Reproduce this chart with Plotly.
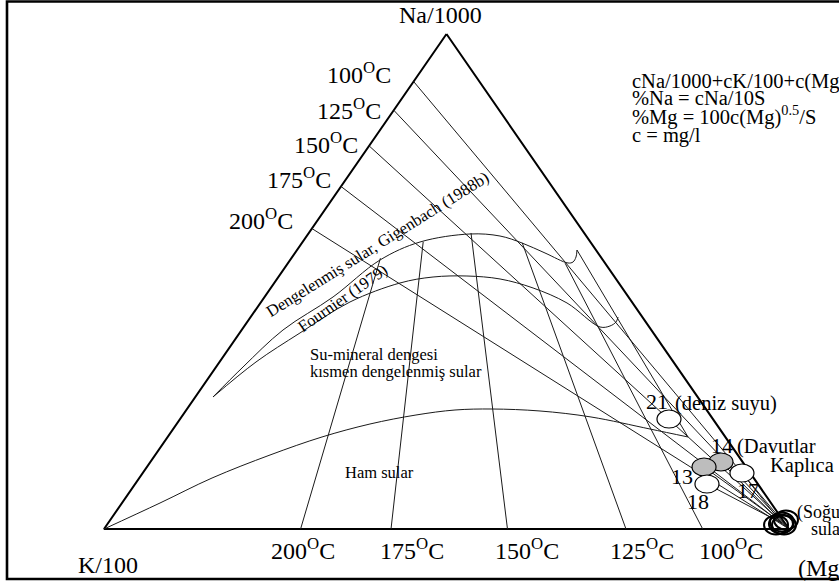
import numpy as np
import plotly.graph_objects as go

# ---------------- data (ternary percentages: %Na, %Mg ; %K = 100 - %Na - %Mg) ----------------
# triangle vertices: Na/1000 (apex), K/100 (left), sqrt(Mg) (right)
tri_na = [100, 0, 0, 100]
tri_mg = [0, 0, 100, 0]

# Na/K isotherms: start on the Na-K side, run to the Mg corner
na_k_temps = [100, 125, 150, 175, 200]
na_k_start_na = [90.4, 84.6, 77.4, 69.2, 60.7]

# K/Mg isotherms: start on the K-Mg side, run toward Na corner up to full-equilibrium curve
k_mg_temps = [200, 175, 150, 125, 100]
k_mg_base_mg = [28.7, 41.9, 58.9, 76.2, 87.4]
k_mg_top_na = [54.7, 58.0, 59.8, 57.8, 53.7]

# full equilibrium curve (Giggenbach 1988b)
gigg_na = [26.67, 32.73, 40.20, 46.87, 54.34, 57.98, 59.60, 59.19, 57.78, 55.76, 53.74, 53.94, 54.95, 56.36]
gigg_mg = [2.58, 3.93, 6.03, 10.00, 13.12, 17.14, 23.63, 28.21, 32.13, 36.50, 40.87, 41.50, 41.43, 40.87]

# Fournier (1979) curve
four_na = [26.67, 33.74, 39.60, 45.86, 49.70, 50.91, 51.11, 50.51, 48.69, 45.66, 40.81, 41.01, 41.82, 42.83]
four_mg = [2.58, 5.32, 8.81, 12.98, 18.36, 22.58, 27.43, 32.56, 38.29, 44.76, 52.01, 53.36, 53.84, 53.63]

# closing line of partial-equilibrium field
close_na = [56.36, 18.59]
close_mg = [40.87, 75.96]

# immature waters boundary (Ham sular)
ham_na = [0, 5.25, 10.30, 14.95, 18.59, 21.21, 23.03, 24.04, 24.24, 23.84, 22.63, 20.20, 18.59]
ham_mg = [0, 5.55, 10.62, 16.76, 22.53, 28.22, 34.03, 39.22, 44.52, 51.73, 59.78, 69.61, 75.96]

# samples
sample_ids = ["14", "13", "17", "18", "21"]
sample_na = [13.54, 12.53, 11.31, 9.09, 22.22]
sample_mg = [83.30, 81.33, 87.48, 83.48, 71.37]
sample_grey = [True, True, False, False, False]
mixing_ids = ["13", "14", "17", "18"]

# cold waters (Soğuk sular) near Mg corner
cold_na = [0.81, 1.41, 1.82, 0.81, 1.01]
cold_mg = [97.70, 98.27, 98.65, 98.87, 98.32]

# ---------------- layout constants ----------------
W, H = 839, 585
BASE_L, BASE_R, BASE_Y, APEX_Y = 104, 789, 529, 34
SX = BASE_R - BASE_L
SY = BASE_Y - APEX_Y
FONT = "Liberation Serif, Times New Roman, serif"
LINE = "#1a1a1a"


def tern(na_pct, mg_pct):
    na = np.asarray(na_pct, float) / 100.0
    mg = np.asarray(mg_pct, float) / 100.0
    return mg + na / 2.0, na


fig = go.Figure()


def add_line(x, y, width=1.0, color=LINE, shape="linear"):
    fig.add_trace(go.Scatter(x=list(x), y=list(y), mode="lines",
                             line=dict(color=color, width=width, shape=shape, smoothing=1.0),
                             hoverinfo="skip", showlegend=False))


# triangle
tx, ty = tern(tri_na, tri_mg)
add_line(tx, ty, width=2.0, color="black")

# Na/K isotherms
xs, ys = [], []
for a in na_k_start_na:
    x, y = tern([a, 0], [0, 100])
    xs += list(x) + [None]
    ys += list(y) + [None]
add_line(xs, ys)

# K/Mg isotherms
xs, ys = [], []
for m0, a1 in zip(k_mg_base_mg, k_mg_top_na):
    x, y = tern([0, a1], [m0, m0 * (1 - a1 / 100.0)])
    xs += list(x) + [None]
    ys += list(y) + [None]
add_line(xs, ys)

# curves
x, y = tern(gigg_na, gigg_mg)
add_line(x, y, shape="spline")
x, y = tern(four_na, four_mg)
add_line(x, y, shape="spline")
x, y = tern(close_na, close_mg)
add_line(x, y)
x, y = tern(ham_na, ham_mg)
add_line(x, y, shape="spline")

# mixing lines samples -> cold waters
cx, cy = tern([np.mean(cold_na)], [np.mean(cold_mg)])
xs, ys = [], []
for sid, a, m in zip(sample_ids, sample_na, sample_mg):
    if sid in mixing_ids:
        sx_, sy_ = tern([a], [m])
        xs += [sx_[0], cx[0], None]
        ys += [sy_[0], cy[0], None]
add_line(xs, ys)

shapes = []


def ellipse(na, mg, w_px, h_px, fill, lw):
    ex, ey = tern([na], [mg])
    dx = w_px / 2.0 / SX
    dy = h_px / 2.0 / SY
    return dict(type="circle", xref="x", yref="y", x0=ex[0] - dx, x1=ex[0] + dx,
                y0=ey[0] - dy, y1=ey[0] + dy, fillcolor=fill,
                line=dict(color="black", width=lw), layer="above")


for sid, a, m, g in zip(sample_ids, sample_na, sample_mg, sample_grey):
    shapes.append(ellipse(a, m, 24, 18, "#bdbdbd" if g else "white", 1.2))
for a, m in zip(cold_na, cold_mg):
    shapes.append(ellipse(a, m, 24, 19, "rgba(0,0,0,0)", 2.0))

# frame
shapes.append(dict(type="rect", xref="paper", yref="paper", x0=7 / W, x1=1.05,
                   y0=1 - 579 / H, y1=1 - 1.5 / H, line=dict(color="black", width=2.6),
                   fillcolor="rgba(0,0,0,0)", layer="above"))

annotations = []


def ann(text, xp, yp, size, xanchor="left", yanchor="middle", angle=0):
    annotations.append(dict(text=text, x=xp / W, y=1 - yp / H, xref="paper", yref="paper",
                            showarrow=False, xanchor=xanchor, yanchor=yanchor, textangle=angle,
                            font=dict(family=FONT, size=size, color="black")))


ann("Na/1000", 440, 15, 24, xanchor="center")
ann("K/100", 76, 565, 24)
ann("(Mg)<sup>0.5</sup>", 796, 566, 24)

bottom_x = [303, 412, 527, 642, 731]
for t, xp in zip(k_mg_temps, bottom_x):
    ann(f"{t}<sup>O</sup>C", xp, 549, 24, xanchor="center")

left_pos = [(393, 73), (383, 109), (360, 143), (333, 178), (295, 219)]
for t, (xp, yp) in zip(na_k_temps, left_pos):
    ann(f"{t}<sup>O</sup>C", xp, yp, 24, xanchor="right")

ann("cNa/1000+cK/100+c(Mg)<sup>0.5</sup> = S", 630, 80, 20.5)
ann("%Na = cNa/10S", 630, 98, 20.5)
ann("%Mg = 100c(Mg)<sup>0.5</sup>/S", 630, 116, 20.5)
ann("c = mg/l", 630, 135, 20.5)

ann("Dengelenmiş sular, Gigenbach (1988b)", 377, 244, 16.5, xanchor="center", angle=-32)
ann("Fournier (1979)", 342, 298, 16.5, xanchor="center", angle=-35)
ann("Su-mineral dengesi", 308, 354, 16.5)
ann("kısmen dengelenmiş sular", 308, 371, 16.5)
ann("Ham sular", 343, 472, 16.5)

ann("21", 644, 401, 22)
ann("(deniz suyu)", 673, 403, 20.5)
ann("14", 709, 445, 22)
ann("(Davutlar", 735, 446, 20.5)
ann("Kaplıca", 768, 466, 20.5)
ann("13", 669, 476, 22)
ann("18", 685, 501, 22)
ann("17", 735, 490, 22)
ann("(Soğuk", 795, 512, 18)
ann("sular)", 809, 529, 18)

fig.update_layout(
    width=W, height=H, autosize=False,
    margin=dict(l=0, r=0, t=0, b=0, pad=0),
    paper_bgcolor="white", plot_bgcolor="white",
    xaxis=dict(range=[-BASE_L / SX, (W - BASE_L) / SX], visible=False, fixedrange=True),
    yaxis=dict(range=[-(H - BASE_Y) / SY, BASE_Y / SY], visible=False, fixedrange=True),
    shapes=shapes, annotations=annotations, showlegend=False,
)

fig.write_html("out.html")
